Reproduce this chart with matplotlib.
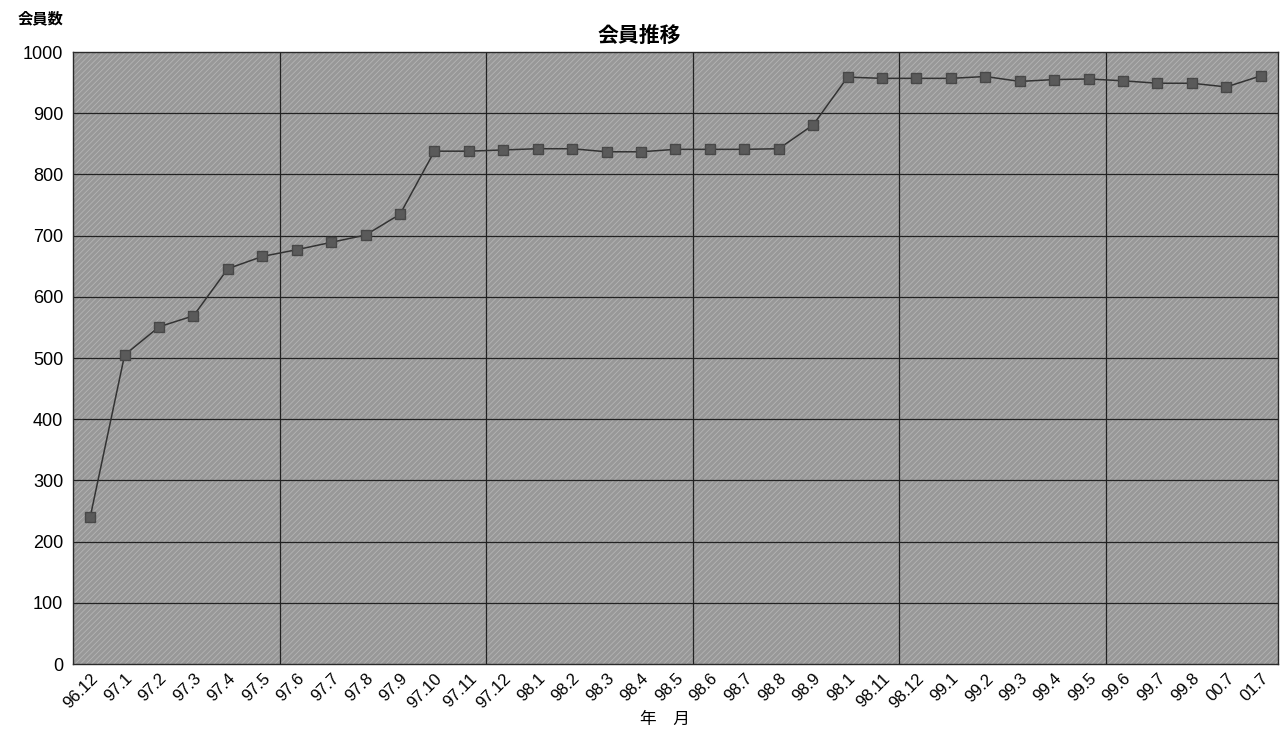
import matplotlib.pyplot as plt
import matplotlib.patches as mpatches

plt.rcParams['font.family'] = ['Liberation Sans', 'Noto Sans CJK JP', 'DejaVu Sans']
plt.rcParams['hatch.linewidth'] = 0.6

months = ['96.12', '97.1', '97.2', '97.3', '97.4', '97.5', '97.6', '97.7', '97.8',
          '97.9', '97.10', '97.11', '97.12', '98.1', '98.2', '98.3', '98.4', '98.5',
          '98.6', '98.7', '98.8', '98.9', '98.1', '98.11', '98.12', '99.1', '99.2',
          '99.3', '99.4', '99.5', '99.6', '99.7', '99.8', '00.7', '01.7']
members = [240, 505, 551, 569, 646, 666, 677, 689, 701, 735, 838, 838, 840, 842,
           842, 837, 837, 841, 841, 841, 842, 881, 959, 957, 957, 957, 960, 952,
           955, 956, 953, 949, 949, 943, 961]
y_ticks = list(range(0, 1001, 100))

fig = plt.figure(figsize=(12.87, 7.36), dpi=100)
ax = fig.add_axes([0.0567, 0.0978, 0.9363, 0.8315])

# grainy grey plot area
ax.set_facecolor('#989898')
ax.add_patch(mpatches.Rectangle((0, 0), 1, 1, transform=ax.transAxes,
                                facecolor='none', edgecolor='#b4b4b4',
                                hatch='//////', linewidth=0, zorder=0))

x = list(range(len(months)))
ax.plot(x, members, color='#333333', linewidth=1.1, marker='s',
        markersize=7.5, markerfacecolor='#5a5a5a', markeredgecolor='#484848', zorder=3)

ax.set_xlim(-0.5, len(months) - 0.5)
ax.set_ylim(0, 1000)
ax.set_yticks(y_ticks)
ax.set_yticklabels([str(v) for v in y_ticks], fontsize=13)
ax.set_xticks(x)
ax.set_xticklabels(months, rotation=45, ha='right', rotation_mode='anchor', fontsize=12)
ax.tick_params(axis='y', length=0, pad=7)
ax.tick_params(axis='x', length=0, pad=5)

for v in y_ticks[1:-1]:
    ax.axhline(v, color='#222222', linewidth=0.9, zorder=1)
for k in range(6, len(months), 6):
    ax.axvline(k - 0.5, color='#222222', linewidth=0.9, zorder=1)
for s in ax.spines.values():
    s.set_color('#2a2a2a')
    s.set_linewidth(1.0)

fig.text(0.497, 0.952, '会員推移', ha='center', va='center', fontsize=15,
         fontweight='bold', family=['Noto Sans CJK JP'])
fig.text(0.014, 0.975, '会員数', ha='left', va='center', fontsize=11,
         fontweight='bold', family=['Noto Sans CJK JP'])
fig.text(0.517, 0.022, '年　月', ha='center', va='center', fontsize=12,
         family=['Noto Sans CJK JP'])

fig.savefig('out.png', dpi=100)
